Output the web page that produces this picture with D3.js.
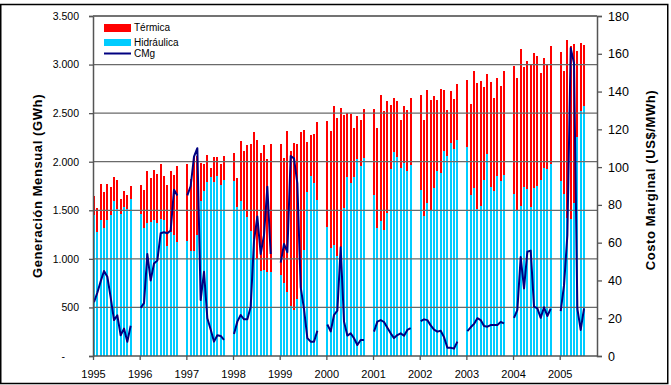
<!DOCTYPE html>
<html>
<head>
<meta charset="utf-8">
<script src="https://cdn.jsdelivr.net/npm/d3@7/dist/d3.min.js"></script>
<style>
  body { margin: 0; background: #fff; }
  svg { display: block; font-family: "Liberation Sans", Arial, sans-serif; }
</style>
</head>
<body>
<svg id="chart" width="671" height="385"></svg>
<script>
// Monthly generation (GWh) and marginal cost (US$/MWh), Jan 1995 – Aug 2005
const years = [1995, 1996, 1997, 1998, 1999, 2000, 2001, 2002, 2003, 2004, 2005];

// Hydro generation, GWh (one row per year)
const hidraulica = [
  1450, 1280, 1400, 1320, 1400, 1450, 1600, 1510, 1460, 1530, 1510, 1620,
  1460, 1320, 1370, 1380, 1400, 1370, 1410, 1400, 1130, 1280, 1250, 1170,
  1180, 1080, 1080, 1250, 1600, 1700, 1790, 1840, 1790, 1850, 1760, 1810,
  1800, 1530, 1600, 1490, 1430, 1290, 1200, 1000,  880,  890,  860,  860,
   830,  750,  660,  510,  470,  590,  700, 1090, 1690, 1850, 1780, 1610,
  1330, 1110, 1140, 1030, 1120, 1520, 1840, 1780, 1840, 2030, 1960, 2040,
  1660, 1320, 1390, 1300, 1470, 1930, 2100, 2050, 1940, 1990, 1900, 1970,
  1710, 1440, 1570, 1490, 1730, 1900, 1880, 2110, 2060, 2190, 2130, 2220,
  2150, 1660, 1730, 1510, 1540, 1810, 2080, 1740, 1700, 1850, 1800, 1860,
  1670, 1500, 1540, 1740, 1720, 1530, 1730, 1750, 1810, 1940, 1930, 1980,
  1800, 1670, 1420, 1410, 1570, 2250, 2520, 2570
];

// Thermal generation, GWh
const termica = [
   200,  240,  370,  370,  370,  290,  240,  300,  160,  170,  150,  130,
   300,  390,  530,  450,  510,  500,  570,  450,  630,  620,  610,  790,
   800,  740,  970,  810,  390,  280,  280,  100,  260,  200,  220,  250,
   290,  300,  610,  620,  740,  890, 1110, 1220, 1210, 1280, 1170, 1320,
  1350, 1290, 1660, 1600, 1720, 1590, 1610, 1240,  510,  430,  510,  800,
  1090, 1210, 1430, 1420, 1430,  960,  660,  710,  510,  440,  470,  500,
   880, 1030, 1300, 1220, 1150,  650,  560,  570,  490,  580,  630,  690,
   980,  990, 1170, 1150,  950,  740,  870,  630,  470,  540,  520,  580,
   690,  930, 1200, 1300, 1290,  960,  820, 1080,  960, 1010,  980, 1070,
  1320, 1360, 1620, 1230, 1320, 1470, 1390, 1340, 1100, 1130, 1080, 1210,
  1330, 1260, 1830, 1780, 1640,  890,  700,  630
];

// Marginal cost CMg, US$/MWh
const cmg = [
  28.5, 33.5, 39.5, 45.0, 42.0, 31.0, 19.0, 21.5, 11.0, 14.5,  7.5, 16.0,
  25.5, 28.0, 54.0, 40.0, 49.0, 50.5, 65.0, 65.5, 65.0, 66.5, 88.0, 85.0,
  85.0, 90.0, 105.5, 110.0, 29.6, 44.6, 20.0, 14.0,  7.6, 11.0, 10.6,  8.5,
  11.6, 18.2, 21.7, 19.4, 19.5, 26.0, 61.0, 73.8, 54.0, 64.0, 89.6, 54.0,
  49.4, 59.3, 55.0, 105.9, 104.6, 91.4, 36.5, 24.8,  9.5,  7.6,  7.6, 13.4,
  16.7, 13.0, 21.7, 24.0, 57.6, 18.2, 10.8, 12.0,  9.4,  5.8,  8.5,  8.5,
  12.9, 18.2, 19.0, 18.0, 15.0, 12.0,  9.5, 11.1, 12.0, 10.7, 13.8, 14.7,
  18.5, 19.4, 19.0, 16.2, 14.0, 12.9, 13.4, 10.0,  4.4,  4.4,  3.9,  7.6,
  13.2, 15.2, 17.0, 20.0, 19.0, 15.9, 15.5, 16.4, 16.4, 16.4, 18.0, 17.3,
  20.2, 24.4, 52.4, 35.8, 55.2, 55.8, 26.1, 25.2, 20.2, 25.8, 21.2, 25.0,
  23.8, 37.5, 64.0, 163.0, 155.0, 25.0, 13.8, 25.2
];

const leftTicks = [0, 500, 1000, 1500, 2000, 2500, 3000, 3500];
const leftTickLabels = ["-", "500", "1.000", "1.500", "2.000", "2.500", "3.000", "3.500"];
const rightTicks = [0, 20, 40, 60, 80, 100, 120, 140, 160, 180];
const seriesNames = ["Térmica", "Hidráulica", "CMg"];

const COLORS = { termica: "#ff0000", hidraulica: "#00ccff", cmg: "#000080" };
const SLOTS_PER_YEAR = 14;   // 12 months + 2 empty slots between years

const svg = d3.select("#chart");
const plot = { left: 93, right: 597, top: 16, bottom: 356 };

const x = d3.scaleLinear()
  .domain([0, SLOTS_PER_YEAR * (years.length - 1)])
  .range([plot.left, plot.left + 466.7]);
const yL = d3.scaleLinear().domain([0, 3500]).range([plot.bottom, plot.top]);
const yR = d3.scaleLinear().domain([0, 180]).range([plot.bottom, plot.top]);

const rows = hidraulica.map((h, i) => ({
  slot: Math.floor(i / 12) * SLOTS_PER_YEAR + (i % 12),
  h, t: termica[i], c: cmg[i]
}));

// Line data with breaks between years
const lineData = [];
rows.forEach((r, i) => {
  lineData.push(r);
  if (i % 12 === 11) lineData.push({ slot: r.slot + 1, c: null });
});

// Outer frame
svg.append("rect")
  .attr("x", 0.75).attr("y", 4.5).attr("width", 667).attr("height", 379)
  .attr("fill", "none").attr("stroke", "#000").attr("stroke-width", 1.5);

// Stacked bars
const BW = 2;
const bars = svg.append("g").attr("shape-rendering", "crispEdges");
bars.selectAll("rect.h").data(rows).join("rect").attr("class", "h")
  .attr("x", d => x(d.slot)).attr("width", BW)
  .attr("y", d => yL(d.h)).attr("height", d => yL(0) - yL(d.h))
  .attr("fill", COLORS.hidraulica);
bars.selectAll("rect.t").data(rows).join("rect").attr("class", "t")
  .attr("x", d => x(d.slot)).attr("width", BW)
  .attr("y", d => yL(d.h + d.t)).attr("height", d => yL(d.h) - yL(d.h + d.t))
  .attr("fill", COLORS.termica);

// Gridlines, drawn across the bars
svg.append("g").selectAll("line")
  .data(leftTicks.filter(v => v > 0))
  .join("line")
  .attr("x1", plot.left).attr("x2", plot.right)
  .attr("y1", d => yL(d)).attr("y2", d => yL(d))
  .attr("stroke", "#6a6a6a").attr("stroke-width", 1.3);

// Marginal cost line
svg.append("path")
  .datum(lineData)
  .attr("fill", "none").attr("stroke", COLORS.cmg).attr("stroke-width", 2)
  .attr("stroke-linejoin", "round")
  .attr("d", d3.line().defined(d => d.c != null)
    .x(d => x(d.slot) + 1).y(d => yR(d.c)));

// Axes
const axisColor = "#555";
const gL = svg.append("g").attr("transform", `translate(${plot.left},0)`)
  .call(d3.axisLeft(yL).tickValues(leftTicks).tickSize(4).tickPadding(10)
    .tickFormat((d, i) => leftTickLabels[i]));
const gR = svg.append("g").attr("transform", `translate(${plot.right},0)`)
  .call(d3.axisRight(yR).tickValues(rightTicks).tickSize(5).tickPadding(6));
const gB = svg.append("g").attr("transform", `translate(0,${plot.bottom})`)
  .call(d3.axisBottom(x).tickValues(years.map((_, i) => i * SLOTS_PER_YEAR))
    .tickSize(4).tickPadding(10).tickFormat((d, i) => years[i]));

[gL, gR, gB].forEach(g => {
  g.select(".domain").attr("stroke", axisColor).attr("stroke-width", 1.5);
  g.selectAll(".tick line").attr("stroke", axisColor).attr("stroke-width", 1.3);
  g.selectAll("text").attr("fill", "#000")
    .attr("font-family", "\"Liberation Sans\", Arial, sans-serif");
});
gL.selectAll("text").attr("font-size", 10.5);
gR.selectAll("text").attr("font-size", 12.5);
gB.selectAll("text").attr("font-size", 11);
// the zero label is a dash set in from the other labels
gL.selectAll(".tick text").filter(d => d === 0).attr("dx", -14);
gB.select(".domain").attr("d", `M${plot.left},0H${plot.right}`);
// top border of the plot
svg.append("line").attr("x1", plot.left).attr("x2", plot.right)
  .attr("y1", plot.top).attr("y2", plot.top)
  .attr("stroke", "#6a6a6a").attr("stroke-width", 1.3);

// Axis titles
const midY = (plot.top + plot.bottom) / 2;
svg.append("text")
  .attr("transform", `translate(42,${midY}) rotate(-90)`)
  .attr("text-anchor", "middle").attr("font-weight", "bold").attr("font-size", 13)
  .attr("letter-spacing", 0.6)
  .text("Generación Mensual (GWh)");
svg.append("text")
  .attr("transform", `translate(655,${midY - 6}) rotate(-90)`)
  .attr("text-anchor", "middle").attr("font-weight", "bold").attr("font-size", 13)
  .attr("letter-spacing", 0.6)
  .text("Costo Marginal (US$/MWh)");

// Legend
const lg = svg.append("g").attr("font-size", 10);
lg.append("rect").attr("x", 104).attr("y", 24).attr("width", 27).attr("height", 8)
  .attr("fill", COLORS.termica);
lg.append("rect").attr("x", 104).attr("y", 39).attr("width", 27).attr("height", 7)
  .attr("fill", COLORS.hidraulica);
lg.append("line").attr("x1", 104).attr("x2", 131).attr("y1", 53.5).attr("y2", 53.5)
  .attr("stroke", COLORS.cmg).attr("stroke-width", 2);
[31, 46, 57].forEach((yy, i) => {
  lg.append("text").attr("x", 134).attr("y", yy).attr("fill", "#000")
    .text(seriesNames[i]);
});
</script>
</body>
</html>
